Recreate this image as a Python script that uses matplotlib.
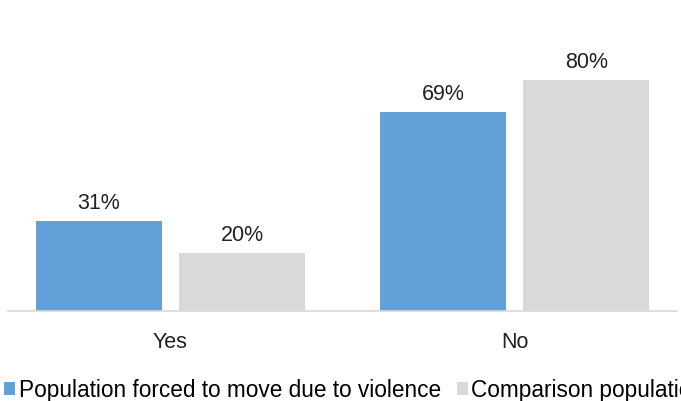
import matplotlib.pyplot as plt
import numpy as np

categories = ["Yes", "No"]
forced = [31, 69]
comparison = [20, 80]
series_names = ["Population forced to move due to violence", "Comparison population"]

BLUE = "#62a0d8"
GRAY = "#d9d9d9"

plt.rcParams["font.family"] = ["Liberation Sans", "DejaVu Sans"]

fig = plt.figure(figsize=(6.81, 4.01), dpi=100)
ax = fig.add_axes([8 / 681, 90 / 401, 669 / 681, 311 / 401])

x = np.arange(len(categories))
w = 0.366
off = (w + 0.05) / 2
b1 = ax.bar(x - off, forced, w, color=BLUE, label=series_names[0])
b2 = ax.bar(x + off, comparison, w, color=GRAY, label=series_names[1])

# value labels above each bar
for bars, vals in [(b1, forced), (b2, comparison)]:
    for bar, v in zip(bars, vals):
        ax.annotate(f"{v}%", (bar.get_x() + bar.get_width() / 2, v),
                    xytext=(0, 5), textcoords="offset points",
                    ha="center", va="bottom", fontsize=15.5, color="#222222")

ax.set_xlim(-0.472, 1.472)
ax.set_ylim(0, 107.6)
ax.set_xticks(x)
ax.set_xticklabels(categories, fontsize=15.5, color="#222222")
ax.tick_params(axis="x", length=0, pad=15)
ax.set_yticks([])
for s in ["top", "right", "left"]:
    ax.spines[s].set_visible(False)
ax.spines["bottom"].set_color("#d9d9d9")
ax.spines["bottom"].set_linewidth(1.2)

fig.legend(handles=[b1, b2], loc="center left", bbox_to_anchor=(4 / 681, 11 / 401),
           ncol=2, frameon=False, fontsize=16.3, handlelength=0.5, handleheight=0.5,
           handletextpad=0.15, columnspacing=0.7, borderaxespad=0, borderpad=0)

fig.savefig("out.png", dpi=100)
